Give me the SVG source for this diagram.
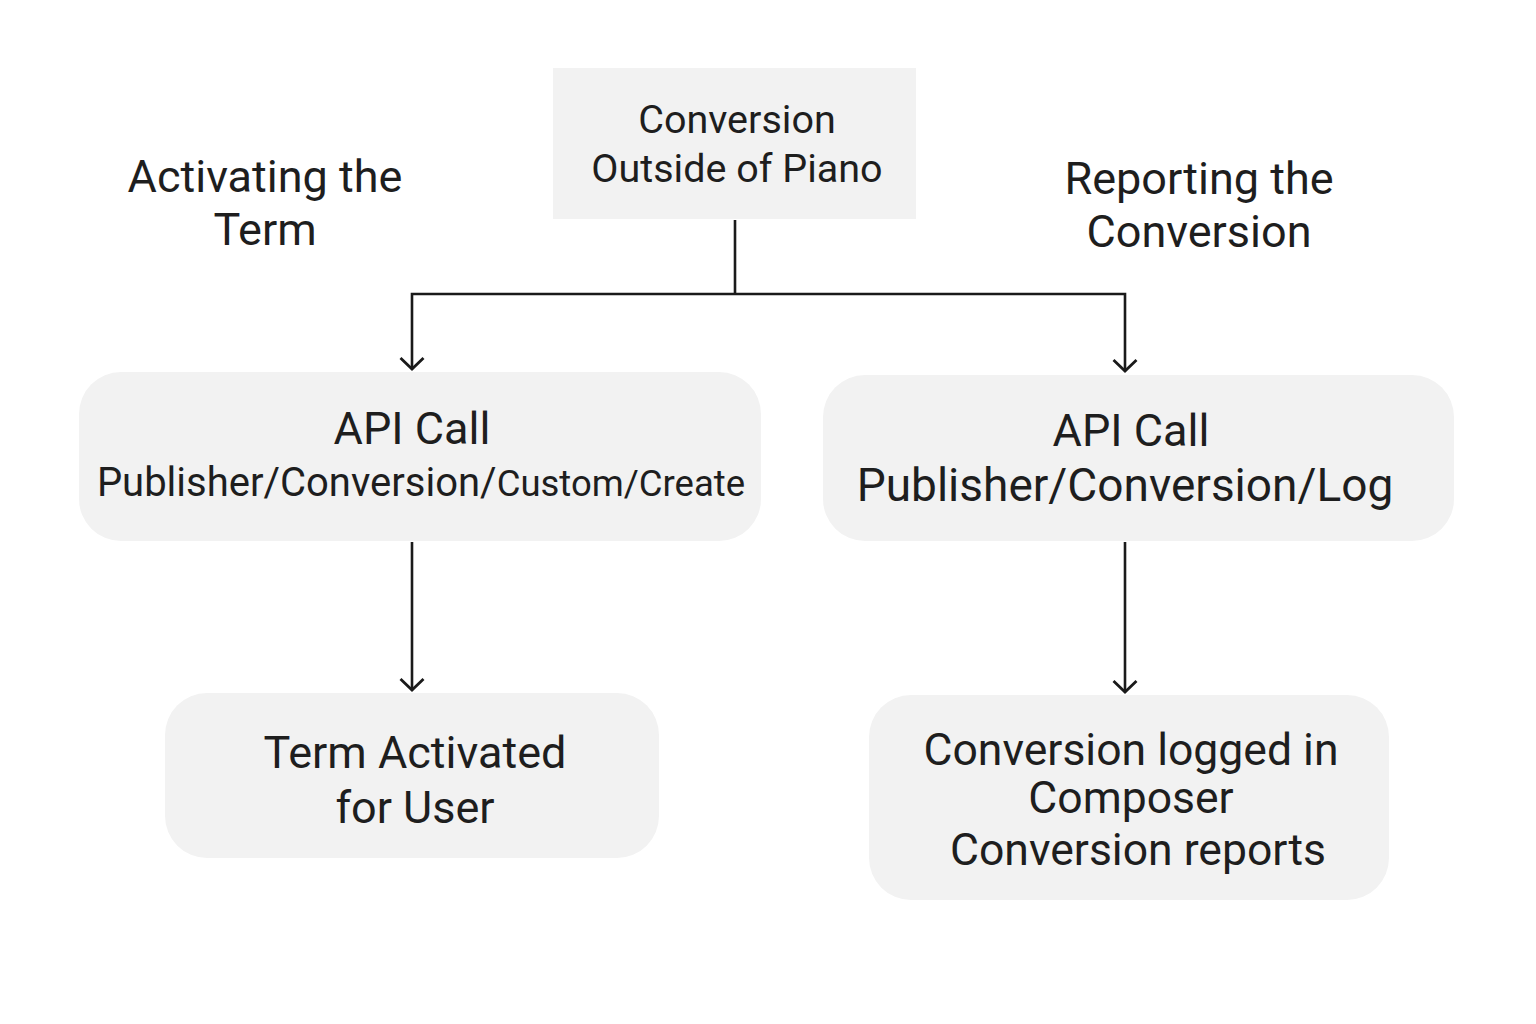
<svg xmlns="http://www.w3.org/2000/svg" width="1536" height="1024" viewBox="0 0 1536 1024">
<defs>
<style>
.box{fill:#f2f2f2;}
.t{font-family:Roboto,"Liberation Sans",sans-serif;fill:#1e1e1e;text-anchor:middle;}
.ln{fill:none;stroke:#1a1a1a;stroke-width:2.6;}
</style>
<marker id="arr" viewBox="-4 -4 28 28" refX="18" refY="10" markerWidth="28" markerHeight="28" markerUnits="userSpaceOnUse" orient="auto">
<path d="M7,-1.5 L18,10 L7,21.5" fill="none" stroke="#1a1a1a" stroke-width="2.8"/>
</marker>
</defs>
<rect width="1536" height="1024" fill="#ffffff"/>
<g id="label-activating">
<text class="t" x="265" y="192" font-size="45">Activating the</text>
<text class="t" x="265" y="245" font-size="45">Term</text>
</g>
<g id="label-reporting">
<text class="t" x="1199" y="194" font-size="45">Reporting the</text>
<text class="t" x="1199" y="247" font-size="45">Conversion</text>
</g>
<g id="node-conversion">
<rect class="box" x="553" y="68" width="363" height="151"/>
<text class="t" x="737" y="133" font-size="39.5">Conversion</text>
<text class="t" x="737" y="182" font-size="39.5">Outside of Piano</text>
</g>
<g id="node-api-create">
<rect class="box" x="79" y="372" width="682" height="169" rx="42"/>
<text class="t" x="412" y="444" font-size="45">API Call</text>
<text class="t" x="421" y="496" font-size="40">Publisher/Conversion/<tspan font-size="36.5">Custom/Create</tspan></text>
</g>
<g id="node-api-log">
<rect class="box" x="823" y="375" width="631" height="166" rx="42"/>
<text class="t" x="1131" y="446" font-size="45">API Call</text>
<text class="t" x="1125" y="501" font-size="46">Publisher/Conversion/Log</text>
</g>
<g id="node-term">
<rect class="box" x="165" y="693" width="494" height="165" rx="42"/>
<text class="t" x="415" y="768" font-size="45">Term Activated</text>
<text class="t" x="415" y="823" font-size="45">for User</text>
</g>
<g id="node-logged">
<rect class="box" x="869" y="695" width="520" height="205" rx="42"/>
<text class="t" x="1131" y="765" font-size="44.5">Conversion logged in</text>
<text class="t" x="1131" y="813" font-size="44.5">Composer</text>
<text class="t" x="1138" y="865" font-size="44.5">Conversion reports</text>
</g>
<g id="connectors">
<path class="ln" d="M735,220 V294"/>
<path class="ln" d="M735,294 H412 V369" marker-end="url(#arr)"/>
<path class="ln" d="M735,294 H1125 V371" marker-end="url(#arr)"/>
<path class="ln" d="M412,542 V690" marker-end="url(#arr)"/>
<path class="ln" d="M1125,542 V692" marker-end="url(#arr)"/>
</g>
</svg>
